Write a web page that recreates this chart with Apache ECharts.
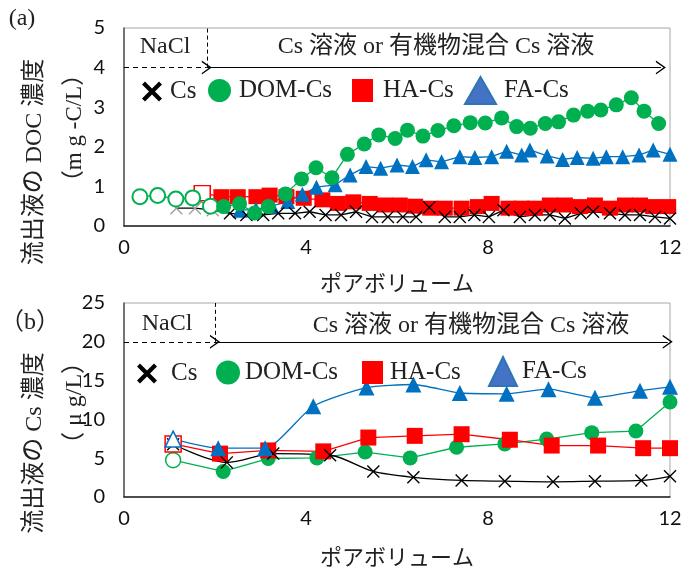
<!DOCTYPE html>
<html>
<head>
<meta charset="utf-8">
<script src="https://cdn.jsdelivr.net/npm/echarts@6/dist/echarts.min.js"></script>
<style>
  html, body { margin: 0; padding: 0; background: #fff; }
  #chart { width: 691px; height: 569px; }
</style>
</head>
<body>
<div id="chart"></div>
<script>
// ---- (a) DOC concentration, mg-C/L ----
const aCsX = [1.15, 1.56, 1.95, 2.33, 2.69, 3.06, 3.39, 3.76, 4.08, 4.43, 4.77, 5.1, 5.45, 5.8, 6.13, 6.42, 6.71, 7.05, 7.38, 7.7, 8.02, 8.34, 8.7, 9.03, 9.36, 9.69, 10.04, 10.31, 10.68, 11.01, 11.34, 11.67, 12.0]
const aCsY = [0.45, 0.45, 0.4, 0.32, 0.28, 0.28, 0.32, 0.32, 0.36, 0.28, 0.28, 0.36, 0.23, 0.23, 0.23, 0.23, 0.47, 0.23, 0.23, 0.28, 0.23, 0.4, 0.23, 0.28, 0.28, 0.19, 0.32, 0.36, 0.32, 0.28, 0.28, 0.23, 0.19]
const aDomX = [0.35, 0.74, 1.14, 1.51, 1.9, 2.19, 2.54, 2.87, 3.17, 3.55, 3.9, 4.22, 4.57, 4.91, 5.28, 5.6, 5.96, 6.23, 6.57, 6.9, 7.25, 7.61, 7.94, 8.3, 8.63, 8.93, 9.26, 9.55, 9.88, 10.19, 10.48, 10.82, 11.15, 11.43, 11.75]
const aDomY = [0.74, 0.77, 0.68, 0.71, 0.5, 0.49, 0.56, 0.33, 0.49, 0.81, 1.19, 1.47, 1.22, 1.81, 2.07, 2.3, 2.21, 2.42, 2.27, 2.41, 2.53, 2.61, 2.6, 2.73, 2.51, 2.47, 2.59, 2.63, 2.8, 2.9, 2.93, 3.06, 3.24, 2.9, 2.59]
const aHaX = [1.72, 2.14, 2.5, 2.91, 3.2, 3.57, 3.95, 4.36, 4.7, 5.04, 5.4, 5.73, 6.06, 6.4, 6.73, 7.05, 7.42, 7.78, 8.08, 8.45, 8.74, 9.03, 9.36, 9.69, 10.02, 10.35, 10.68, 11.01, 11.34, 11.63, 11.96]
const aHaY = [0.83, 0.74, 0.74, 0.74, 0.78, 0.74, 0.7, 0.66, 0.57, 0.61, 0.57, 0.53, 0.53, 0.5, 0.45, 0.45, 0.45, 0.49, 0.57, 0.45, 0.45, 0.45, 0.53, 0.53, 0.49, 0.53, 0.45, 0.53, 0.53, 0.49, 0.49]
const aFaX = [2.55, 2.9, 3.25, 3.6, 3.92, 4.23, 4.64, 4.97, 5.32, 5.64, 6.0, 6.34, 6.64, 6.98, 7.38, 7.71, 8.08, 8.41, 8.74, 8.92, 9.3, 9.64, 9.96, 10.31, 10.6, 10.96, 11.32, 11.63, 12.0]
const aFaY = [0.4, 0.42, 0.5, 0.62, 0.8, 0.98, 1.04, 1.29, 1.5, 1.46, 1.54, 1.5, 1.67, 1.62, 1.75, 1.73, 1.75, 1.89, 1.79, 1.92, 1.77, 1.68, 1.73, 1.71, 1.75, 1.75, 1.79, 1.92, 1.81]

// ---- (b) Cs concentration, ug/L ----
const bCsX = [1.08, 2.26, 3.28, 4.53, 5.48, 6.36, 7.42, 8.37, 9.43, 10.35, 11.37, 12.0]
const bCsY = [6.8, 4.46, 5.59, 5.38, 3.29, 2.54, 2.13, 2.04, 1.96, 2.04, 2.13, 2.67]
const bDomX = [1.08, 2.18, 3.17, 4.24, 5.3, 6.29, 7.31, 8.37, 9.29, 10.28, 11.25, 12.0]
const bDomY = [4.75, 3.29, 4.96, 5.04, 5.79, 5.04, 6.41, 6.84, 7.46, 8.29, 8.5, 12.25]
const bHaX = [1.08, 2.11, 3.17, 4.38, 5.37, 6.39, 7.42, 8.48, 9.4, 10.42, 11.41, 12.0]
const bHaY = [6.84, 5.59, 6.0, 5.88, 7.66, 7.88, 8.09, 7.38, 6.63, 6.63, 6.29, 6.29]
const bFaX = [1.08, 2.07, 3.1, 4.16, 5.33, 6.36, 7.38, 8.41, 9.33, 10.35, 11.34, 12.0]
const bFaY = [7.46, 6.29, 6.29, 11.7, 14.1, 14.5, 13.4, 13.3, 13.9, 12.8, 13.7, 14.2]

const xTicks = [0, 4, 8, 12]
const switchA = 1.82   // NaCl -> Cs solution, pore volume
const switchB = 2.0

const BLACK = '#000000'
const GREEN = '#00B050'
const RED = '#FF0000'
const BLUE = '#0070C0'
const SERIF = '"Liberation Serif", "Noto Sans CJK JP", serif'
const CJK = '"Noto Sans CJK JP", sans-serif'

const CROSS = 'path://M0,1.5 L1.5,0 L10,8.5 L18.5,0 L20,1.5 L11.5,10 L20,18.5 L18.5,20 L10,11.5 L1.5,20 L0,18.5 L8.5,10 Z'
const CROSS_BOLD = 'path://M0,3 L3,0 L10,7 L17,0 L20,3 L13,10 L20,17 L17,20 L10,13 L3,20 L0,17 L7,10 Z'
const CHEVRON = 'path://M0,10 L6,0 L12,10 L10.6,10 L6,2.4 L1.4,10 Z'

// points before the switch are drawn hollow (or grey for the crosses)
const pts = (xs, ys, nOpen, openStyle) => xs.map((x, i) => (
  i < nOpen ? { value: [x, ys[i]], itemStyle: openStyle } : [x, ys[i]]
))

const lineSeries = (name, idx, color, symbol, size, data, extra) => Object.assign({
  name,
  type: 'line',
  xAxisIndex: idx,
  yAxisIndex: idx,
  data,
  symbol,
  symbolSize: size,
  showAllSymbol: true,
  itemStyle: { color },
  lineStyle: { color, width: 1.3 },
  emphasis: { disabled: true },
  silent: true
}, extra || {})

const arrows = (sw, yLine, yTop, xEnd) => ({
  silent: true,
  symbol: 'none',
  label: { show: false },
  animation: false,
  data: [
    [
      { coord: [0, yLine], symbol: 'none', lineStyle: { type: [5, 4], color: '#000', width: 1 } },
      { coord: [sw, yLine], symbol: CHEVRON, symbolSize: [14, 10], lineStyle: { type: [5, 4], color: '#000', width: 1 } }
    ],
    [
      { coord: [sw, yLine], symbol: 'none', lineStyle: { type: 'solid', color: '#000', width: 1 } },
      { coord: [xEnd, yLine], symbol: CHEVRON, symbolSize: [14, 10], lineStyle: { type: 'solid', color: '#000', width: 1 } }
    ],
    [
      { coord: [sw, yLine], symbol: 'none', lineStyle: { type: [4, 3], color: '#000', width: 1 } },
      { coord: [sw, yTop], symbol: 'none', lineStyle: { type: [4, 3], color: '#000', width: 1 } }
    ]
  ]
})

const xAxisBase = (gridIndex, nameGap) => ({
  gridIndex,
  type: 'value',
  min: 0,
  max: 12,
  interval: 4,
  axisLine: { show: true, lineStyle: { color: '#222', width: 1.5 } },
  axisTick: { show: false },
  splitLine: { show: false },
  axisLabel: { fontFamily: 'Lato', fontSize: 20, color: '#111', margin: 12,
    customValues: xTicks },
  name: 'ポアボリューム',
  nameLocation: 'middle',
  nameGap,
  nameTextStyle: { fontFamily: CJK, fontSize: 22, color: '#222' }
})

const yAxisBase = (gridIndex, max, interval) => ({
  gridIndex,
  type: 'value',
  min: 0,
  max,
  interval,
  axisLine: { show: true, lineStyle: { color: '#555', width: 1.5 } },
  axisTick: { show: false },
  splitLine: { show: false },
  axisLabel: { fontFamily: 'Lato', fontSize: 20, color: '#111', margin: 19 }
})

const legendItem = (name, icon, left, top, w, h, pad, itemStyle) => ({
  data: [itemStyle ? { name, icon, itemStyle } : { name, icon }],
  left,
  top,
  padding: 0,
  itemWidth: w,
  itemHeight: h,
  selectedMode: false,
  textStyle: { fontFamily: SERIF, fontSize: 25, color: '#222', padding: [0, 0, 0, pad] }
})

const faLegendStyle = { color: '#4472C4', borderColor: '#2E75B6', borderWidth: 2 }

const txt = (text, x, y, size, rotation, font) => ({
  type: 'text',
  x,
  y,
  rotation: rotation || 0,
  silent: true,
  style: {
    text,
    font: `${size}px ${font || SERIF}`,
    fill: '#222',
    align: 'center',
    verticalAlign: 'middle'
  }
})

const option = {
  animation: false,
  backgroundColor: '#fff',
  grid: [
    { left: 124, right: 21, top: 28, height: 198, show: true, borderColor: '#a6a6a6', borderWidth: 1 },
    { left: 124, right: 21, top: 303, height: 200, show: true, borderColor: '#a6a6a6', borderWidth: 1 }
  ],
  xAxis: [xAxisBase(0, 46), xAxisBase(1, 49)],
  yAxis: [yAxisBase(0, 5, 1), yAxisBase(1, 25, 5)],
  legend: [
    legendItem('Cs', CROSS_BOLD, 142, 79, 20, 20, 3),
    legendItem('DOM-Cs', 'circle', 208, 78, 23, 23, 3),
    legendItem('HA-Cs', 'rect', 352, 78, 21, 23, 5),
    legendItem('FA-Cs', 'triangle', 464, 76, 31, 27, 3, faLegendStyle),
    legendItem('Cs', CROSS_BOLD, 137, 361, 20, 20, 9),
    legendItem('DOM-Cs', 'circle', 216, 360, 24, 24, 0),
    legendItem('HA-Cs', 'rect', 362, 360, 21, 23, 2),
    legendItem('FA-Cs', 'triangle', 488, 356, 28, 29, 0, faLegendStyle)
  ],
  series: [
    // panel (a), bottom to top
    lineSeries('HA-Cs', 0, RED, 'rect', [16, 15],
      pts(aHaX, aHaY, 1, { color: '#fff', borderColor: RED, borderWidth: 1.5 })),
    lineSeries('FA-Cs', 0, BLUE, 'triangle', 15, pts(aFaX, aFaY, 0)),
    lineSeries('Cs', 0, BLACK, CROSS, 13,
      pts(aCsX, aCsY, 3, { color: '#a0a0a0' }),
      { markLine: arrows(switchA, 4, 5, 11.8) }),
    lineSeries('DOM-Cs', 0, GREEN, 'circle', 15,
      pts(aDomX, aDomY, 5, { color: '#fff', borderColor: GREEN, borderWidth: 2 })),
    // panel (b)
    lineSeries('DOM-Cs', 1, GREEN, 'circle', 15,
      pts(bDomX, bDomY, 1, { color: '#fff', borderColor: GREEN, borderWidth: 1.5 })),
    lineSeries('HA-Cs', 1, RED, 'rect', [16, 16],
      pts(bHaX, bHaY, 1, { color: '#fff', borderColor: RED, borderWidth: 1.5 })),
    lineSeries('Cs', 1, BLACK, CROSS, 13, pts(bCsX, bCsY, 0),
      { smooth: 0.3, markLine: arrows(switchB, 20, 25, 11.95) }),
    lineSeries('FA-Cs', 1, BLUE, 'triangle', 16,
      pts(bFaX, bFaY, 1, { color: '#fff', borderColor: BLUE, borderWidth: 1.5 }),
      { smooth: 0.2 })
  ],
  graphic: [
    txt('(a)', 22, 19, 24),
    txt('（b）', 30, 323, 24),
    txt('NaCl', 165, 47, 24),
    txt('Cs 溶液 or 有機物混合 Cs 溶液', 436, 47, 24),
    txt('NaCl', 167, 324, 24),
    txt('Cs 溶液 or 有機物混合 Cs 溶液', 471, 326, 24),
    txt('流出液の DOC 濃度', 35, 162, 24, Math.PI / 2),
    txt('（m g -C/L）', 75, 128, 23, Math.PI / 2),
    txt('流出液の Cs 濃度', 35, 443, 24, Math.PI / 2),
    txt('（ μ g/L）', 75, 403, 24, Math.PI / 2)
  ]
}

const chart = echarts.init(document.getElementById('chart'), null, { renderer: 'canvas' })
chart.setOption(option)
</script>
</body>
</html>
